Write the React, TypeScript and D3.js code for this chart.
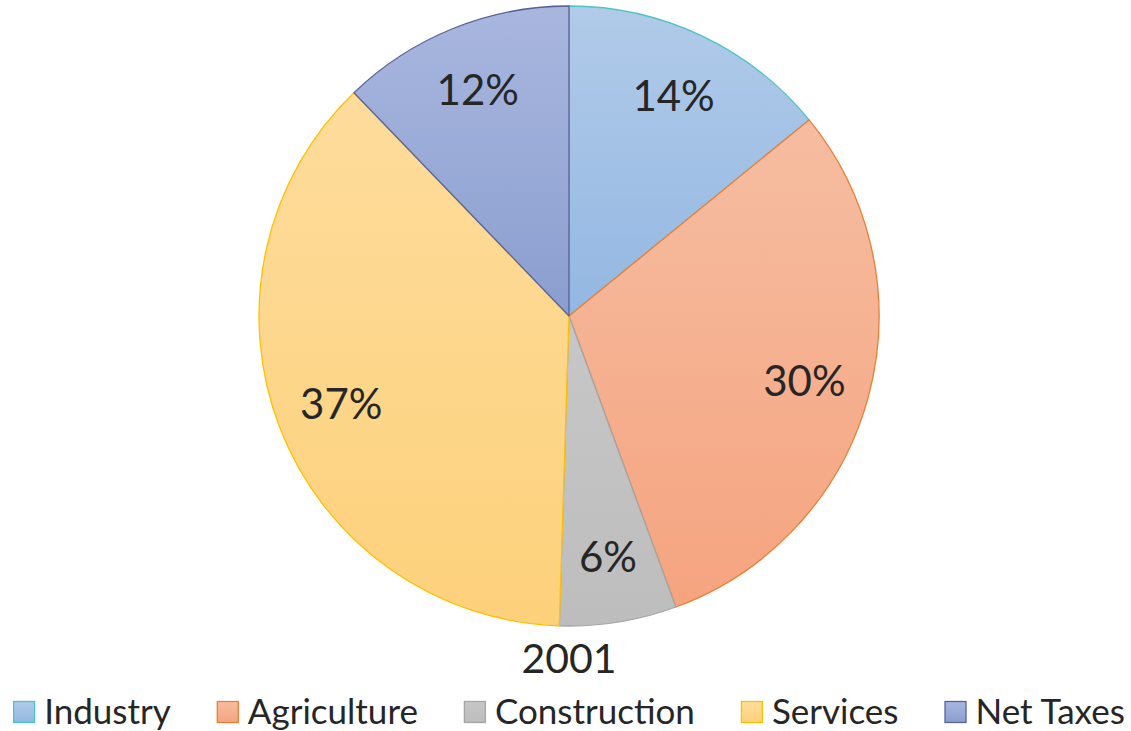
import { useEffect, useRef } from 'react';
import * as d3 from 'd3';

const categories = ['Industry', 'Agriculture', 'Construction', 'Services', 'Net Taxes'];
const shares = [14.1, 30.3, 6.1, 37.3, 12.2];
const yearLabel = '2001';

const topColors = ['#b1cbe9', '#f6bda1', '#c7c7c7', '#fedc9c', '#a9b7df'];
const bottomColors = ['#93b7e2', '#f5a47f', '#bdbdbd', '#fdd17b', '#8a9ecf'];
const strokeColors = ['#4bc4c8', '#ed7d31', '#a5a5a5', '#ffc000', '#5a6399'];

const WIDTH = 1131;
const HEIGHT = 731;
const CX = 569;
const CY = 316;
const R = 310;
const LABEL_R = 244;
const FONT = 'Lato, "Open Sans", sans-serif';
const TEXT_COLOR = '#262626';

export default function App() {
  const ref = useRef<SVGSVGElement>(null);

  useEffect(() => {
    const svg = d3.select(ref.current);
    svg.selectAll('*').remove();

    const defs = svg.append('defs');
    categories.forEach((_, i) => {
      const g = defs
        .append('linearGradient')
        .attr('id', `grad-${i}`)
        .attr('x1', 0)
        .attr('y1', 0)
        .attr('x2', 0)
        .attr('y2', 1);
      g.append('stop').attr('offset', '0%').attr('stop-color', topColors[i]);
      g.append('stop').attr('offset', '100%').attr('stop-color', bottomColors[i]);
    });

    const pie = d3.pie<number>().sort(null).value((d) => d);
    const arcs = pie(shares);
    const arc = d3.arc<d3.PieArcDatum<number>>().innerRadius(0).outerRadius(R);
    const labelArc = d3
      .arc<d3.PieArcDatum<number>>()
      .innerRadius(LABEL_R)
      .outerRadius(LABEL_R);

    const chart = svg.append('g').attr('transform', `translate(${CX},${CY})`);

    chart
      .selectAll('path')
      .data(arcs)
      .join('path')
      .attr('d', arc)
      .attr('fill', (_, i) => `url(#grad-${i})`)
      .attr('stroke', (_, i) => strokeColors[i])
      .attr('stroke-width', 1.3)
      .attr('stroke-linejoin', 'round');

    chart
      .selectAll('text.pct')
      .data(arcs)
      .join('text')
      .attr('class', 'pct')
      .attr('transform', (d) => `translate(${labelArc.centroid(d)})`)
      .attr('text-anchor', 'middle')
      .attr('dy', '0.36em')
      .attr('font-family', FONT)
      .attr('font-size', 42)
      .attr('fill', TEXT_COLOR)
      .text((d) => `${Math.round(d.data)}%`);

    svg
      .append('text')
      .attr('x', CX)
      .attr('y', 673)
      .attr('text-anchor', 'middle')
      .attr('font-family', FONT)
      .attr('font-size', 41)
      .attr('fill', TEXT_COLOR)
      .text(yearLabel);

    // legend: flow layout, centred under the pie
    const legend = svg.append('g');
    const SW = 21;
    const SW_GAP = 10;
    const ITEM_GAP = 46;
    const items = categories.map((name, i) => {
      const g = legend.append('g');
      g.append('rect')
        .attr('x', 0.5)
        .attr('y', 701.5)
        .attr('width', SW)
        .attr('height', SW)
        .attr('fill', `url(#grad-${i})`)
        .attr('stroke', strokeColors[i])
        .attr('stroke-width', 1.3);
      const t = g
        .append('text')
        .attr('x', SW + SW_GAP)
        .attr('y', 724)
        .attr('font-family', FONT)
        .attr('font-size', 35)
        .attr('fill', TEXT_COLOR)
        .text(name);
      const w = (t.node() as SVGTextElement).getComputedTextLength();
      return { g, w: SW + SW_GAP + w };
    });
    const total = d3.sum(items, (d) => d.w) + ITEM_GAP * (items.length - 1);
    let x = CX - total / 2;
    items.forEach((it) => {
      it.g.attr('transform', `translate(${x},0)`);
      x += it.w + ITEM_GAP;
    });
  }, []);

  return (
    <svg
      ref={ref}
      width={WIDTH}
      height={HEIGHT}
      style={{ position: 'absolute', left: 0, top: 0, background: '#fff' }}
    />
  );
}
